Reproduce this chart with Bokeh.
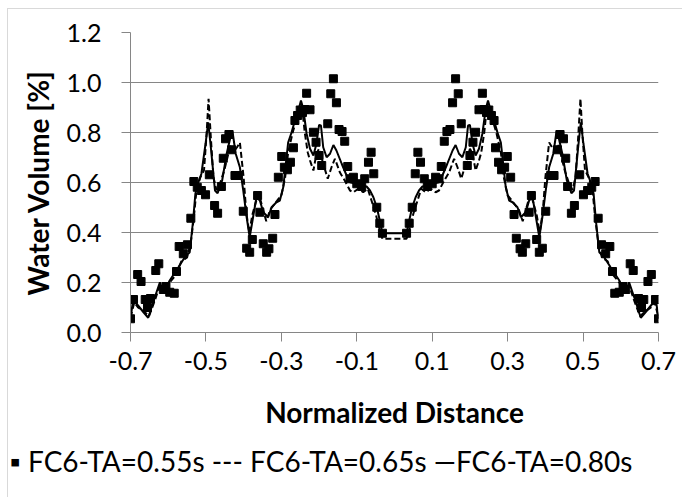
from bokeh.plotting import figure
from bokeh.models import FixedTicker, PrintfTickFormatter, Title
from bokeh.embed import file_html
from bokeh.resources import INLINE

# ---- data -------------------------------------------------------------
x_tick_values = [-0.7, -0.5, -0.3, -0.1, 0.1, 0.3, 0.5, 0.7]
y_tick_values = [0.0, 0.2, 0.4, 0.6, 0.8, 1.0, 1.2]

series_names = ["FC6-TA=0.55s", "FC6-TA=0.65s", "FC6-TA=0.80s"]
legend_keys = ["\u25aa", "---", "\u2014"]

# FC6-TA=0.55s (squares)
x_055 = [-0.700, -0.692, -0.681, -0.672, -0.661, -0.655, -0.647, -0.633, -0.625, -0.613,
         -0.606, -0.596, -0.584, -0.578, -0.571, -0.560, -0.549, -0.540, -0.532, -0.523,
         -0.512, -0.501, -0.491, -0.477, -0.469, -0.459, -0.454, -0.448, -0.439, -0.432,
         -0.423, -0.414, -0.401, -0.392, -0.384, -0.377, -0.363, -0.357, -0.348, -0.339,
         -0.333, -0.323, -0.317, -0.308, -0.299, -0.292, -0.284, -0.276, -0.268, -0.264,
         -0.257, -0.250, -0.244, -0.238, -0.233, -0.224, -0.215, -0.208, -0.200, -0.193,
         -0.177, -0.169, -0.162, -0.154, -0.147, -0.139, -0.132, -0.124, -0.118, -0.109,
         -0.100, -0.087, -0.079, -0.069, -0.062, -0.055, -0.047, -0.039, -0.032,
         0.032, 0.039, 0.047, 0.055, 0.062, 0.069, 0.079, 0.087, 0.100, 0.109,
         0.118, 0.124, 0.132, 0.139, 0.147, 0.154, 0.162, 0.169, 0.177, 0.193,
         0.200, 0.208, 0.215, 0.224, 0.233, 0.238, 0.244, 0.250, 0.257, 0.264,
         0.268, 0.276, 0.284, 0.292, 0.299, 0.308, 0.317, 0.323, 0.333, 0.339,
         0.348, 0.357, 0.363, 0.377, 0.384, 0.392, 0.401, 0.414, 0.423, 0.432,
         0.439, 0.448, 0.454, 0.459, 0.469, 0.477, 0.491, 0.501, 0.512, 0.523,
         0.532, 0.540, 0.549, 0.560, 0.571, 0.578, 0.584, 0.596, 0.606, 0.613,
         0.625, 0.633, 0.647, 0.655, 0.661, 0.672, 0.681, 0.692, 0.700]
y_055 = [0.055, 0.132, 0.232, 0.204, 0.132, 0.100, 0.136, 0.248, 0.275, 0.172,
         0.184, 0.161, 0.157, 0.244, 0.344, 0.315, 0.351, 0.457, 0.604, 0.581,
         0.568, 0.551, 0.631, 0.508, 0.477, 0.584, 0.697, 0.775, 0.792, 0.731,
         0.628, 0.628, 0.485, 0.337, 0.321, 0.372, 0.548, 0.481, 0.355, 0.321,
         0.335, 0.377, 0.472, 0.621, 0.704, 0.661, 0.651, 0.681, 0.739, 0.848,
         0.868, 0.890, 0.880, 0.892, 0.957, 0.891, 0.801, 0.761, 0.708, 0.668,
         0.835, 0.955, 1.015, 0.919, 0.812, 0.804, 0.765, 0.664, 0.615, 0.621,
         0.595, 0.584, 0.615, 0.681, 0.721, 0.635, 0.501, 0.437, 0.397,
         0.397, 0.437, 0.501, 0.635, 0.721, 0.681, 0.615, 0.584, 0.595, 0.621,
         0.615, 0.664, 0.765, 0.804, 0.812, 0.919, 1.015, 0.955, 0.835, 0.668,
         0.708, 0.761, 0.801, 0.891, 0.957, 0.892, 0.880, 0.890, 0.868, 0.848,
         0.739, 0.681, 0.651, 0.661, 0.704, 0.621, 0.472, 0.377, 0.335, 0.321,
         0.355, 0.481, 0.548, 0.372, 0.321, 0.337, 0.485, 0.628, 0.628, 0.731,
         0.792, 0.775, 0.697, 0.584, 0.477, 0.508, 0.631, 0.551, 0.568, 0.581,
         0.604, 0.457, 0.351, 0.315, 0.344, 0.244, 0.157, 0.161, 0.184, 0.172,
         0.275, 0.248, 0.136, 0.100, 0.132, 0.204, 0.232, 0.132, 0.055]

# FC6-TA=0.65s (dashed line)
x_065 = [-0.700, -0.690, -0.680, -0.665, -0.651, -0.635, -0.622, -0.613, -0.596, -0.580,
         -0.565, -0.550, -0.540, -0.532, -0.525, -0.515, -0.505, -0.498, -0.493, -0.487,
         -0.480, -0.472, -0.462, -0.452, -0.443, -0.435, -0.428, -0.418, -0.410, -0.400,
         -0.393, -0.385, -0.377, -0.368, -0.360, -0.350, -0.340, -0.330, -0.320, -0.310,
         -0.300, -0.290, -0.282, -0.270, -0.260, -0.250, -0.245, -0.238, -0.230, -0.224,
         -0.215, -0.207, -0.200, -0.189, -0.177, -0.167, -0.158, -0.145, -0.132, -0.118,
         -0.109, -0.096, -0.083, -0.071, -0.061, -0.050, -0.041, -0.032, 0.000,
         0.032, 0.041, 0.050, 0.061, 0.071, 0.083, 0.096, 0.109, 0.118, 0.132,
         0.145, 0.158, 0.167, 0.177, 0.189, 0.200, 0.207, 0.215, 0.224, 0.230,
         0.238, 0.245, 0.250, 0.260, 0.270, 0.282, 0.290, 0.300, 0.310, 0.320,
         0.330, 0.340, 0.350, 0.360, 0.368, 0.377, 0.385, 0.393, 0.400, 0.410,
         0.418, 0.428, 0.435, 0.443, 0.452, 0.462, 0.472, 0.480, 0.487, 0.493,
         0.498, 0.505, 0.515, 0.525, 0.532, 0.540, 0.550, 0.565, 0.580, 0.596,
         0.613, 0.622, 0.635, 0.651, 0.665, 0.680, 0.690, 0.700]
y_065 = [0.060, 0.120, 0.100, 0.085, 0.065, 0.130, 0.190, 0.160, 0.200, 0.230,
         0.285, 0.300, 0.360, 0.460, 0.570, 0.620, 0.650, 0.800, 0.935, 0.780,
         0.620, 0.570, 0.600, 0.645, 0.700, 0.750, 0.720, 0.740, 0.760, 0.620,
         0.480, 0.400, 0.470, 0.520, 0.555, 0.500, 0.445, 0.490, 0.510, 0.530,
         0.548, 0.620, 0.720, 0.800, 0.850, 0.880, 0.900, 0.800, 0.720, 0.688,
         0.648, 0.715, 0.735, 0.675, 0.615, 0.661, 0.695, 0.641, 0.608, 0.568,
         0.561, 0.575, 0.561, 0.575, 0.528, 0.475, 0.421, 0.375, 0.375,
         0.375, 0.421, 0.475, 0.528, 0.575, 0.561, 0.575, 0.561, 0.568, 0.608,
         0.641, 0.695, 0.661, 0.615, 0.675, 0.735, 0.715, 0.648, 0.688, 0.720,
         0.800, 0.900, 0.880, 0.850, 0.800, 0.720, 0.620, 0.548, 0.530, 0.510,
         0.490, 0.445, 0.500, 0.555, 0.520, 0.470, 0.400, 0.480, 0.620, 0.760,
         0.740, 0.720, 0.750, 0.700, 0.645, 0.600, 0.570, 0.620, 0.780, 0.935,
         0.800, 0.650, 0.620, 0.570, 0.460, 0.360, 0.300, 0.285, 0.230, 0.200,
         0.160, 0.190, 0.130, 0.065, 0.085, 0.100, 0.120, 0.060]

# FC6-TA=0.80s (solid line)
x_080 = [-0.700, -0.693, -0.680, -0.665, -0.653, -0.638, -0.622, -0.613, -0.596, -0.573,
         -0.556, -0.543, -0.534, -0.528, -0.520, -0.512, -0.501, -0.494, -0.487, -0.476,
         -0.469, -0.457, -0.445, -0.434, -0.430, -0.421, -0.410, -0.401, -0.392, -0.384,
         -0.375, -0.366, -0.357, -0.348, -0.335, -0.326, -0.313, -0.304, -0.295, -0.282,
         -0.273, -0.264, -0.255, -0.248, -0.242, -0.233, -0.224, -0.215, -0.207, -0.200,
         -0.195, -0.189, -0.180, -0.171, -0.162, -0.154, -0.140, -0.127, -0.118, -0.107,
         -0.092, -0.074, -0.065, -0.056, -0.047, -0.039, -0.032, 0.000,
         0.032, 0.039, 0.047, 0.056, 0.065, 0.074, 0.092, 0.107, 0.118, 0.127,
         0.140, 0.154, 0.162, 0.171, 0.180, 0.189, 0.195, 0.200, 0.207, 0.215,
         0.224, 0.233, 0.242, 0.248, 0.255, 0.264, 0.273, 0.282, 0.295, 0.304,
         0.313, 0.326, 0.335, 0.348, 0.357, 0.366, 0.375, 0.384, 0.392, 0.401,
         0.410, 0.421, 0.430, 0.434, 0.445, 0.457, 0.469, 0.476, 0.487, 0.494,
         0.501, 0.512, 0.520, 0.528, 0.534, 0.543, 0.556, 0.573, 0.596, 0.613,
         0.622, 0.638, 0.653, 0.665, 0.680, 0.693, 0.700]
y_080 = [0.055, 0.131, 0.108, 0.080, 0.059, 0.130, 0.201, 0.156, 0.208, 0.261,
         0.301, 0.321, 0.448, 0.555, 0.601, 0.635, 0.755, 0.841, 0.741, 0.568,
         0.557, 0.608, 0.715, 0.788, 0.808, 0.715, 0.661, 0.568, 0.461, 0.381,
         0.461, 0.541, 0.528, 0.481, 0.461, 0.501, 0.521, 0.528, 0.581, 0.760,
         0.800, 0.848, 0.888, 0.928, 0.895, 0.795, 0.735, 0.708, 0.755, 0.830,
         0.828, 0.741, 0.701, 0.715, 0.750, 0.728, 0.675, 0.628, 0.601, 0.597,
         0.588, 0.584, 0.568, 0.541, 0.501, 0.448, 0.397, 0.397,
         0.397, 0.448, 0.501, 0.541, 0.568, 0.584, 0.588, 0.597, 0.601, 0.628,
         0.675, 0.728, 0.750, 0.715, 0.701, 0.741, 0.828, 0.830, 0.755, 0.708,
         0.735, 0.795, 0.895, 0.928, 0.888, 0.848, 0.800, 0.760, 0.581, 0.528,
         0.521, 0.501, 0.461, 0.481, 0.528, 0.541, 0.461, 0.381, 0.461, 0.568,
         0.661, 0.715, 0.808, 0.788, 0.715, 0.608, 0.557, 0.568, 0.741, 0.841,
         0.755, 0.635, 0.601, 0.555, 0.448, 0.321, 0.301, 0.261, 0.208, 0.156,
         0.201, 0.130, 0.059, 0.080, 0.108, 0.131, 0.055]

# ---- figure -------------------------------------------------------------
FONT = "Lato"
GRAY = "#868686"
DASH = "6 3"

p = figure(width=675, height=489, output_backend="svg", toolbar_location=None,
           x_range=(-0.7, 0.7), y_range=(0.0, 1.2),
           min_border_left=122, min_border_right=25, min_border_top=23, min_border_bottom=166,
           margin=(8, 0, 0, 7),
           styles={"border-left": "1px solid #d9d9d9", "border-top": "1px solid #d9d9d9"})
p.outline_line_color = None
p.background_fill_color = "white"
p.border_fill_color = "white"

p.xgrid.visible = False
p.ygrid.grid_line_color = GRAY
p.ygrid.grid_line_width = 1
p.ygrid.ticker = FixedTicker(ticks=y_tick_values)

p.xaxis.ticker = FixedTicker(ticks=x_tick_values)
p.yaxis.ticker = FixedTicker(ticks=y_tick_values)
p.xaxis.formatter = PrintfTickFormatter(format="%.1f")
p.yaxis.formatter = PrintfTickFormatter(format="%.1f")

for ax in (p.xaxis, p.yaxis):
    ax.axis_line_color = GRAY
    ax.major_tick_line_color = GRAY
    ax.major_tick_in = 0
    ax.major_tick_out = 9
    ax.minor_tick_line_color = None
    ax.major_label_text_font = FONT
    ax.major_label_text_font_size = "25px"
    ax.major_label_text_color = "black"
    ax.axis_label_text_font = FONT
    ax.axis_label_text_font_size = "28px"
    ax.axis_label_text_font_style = "bold"
    ax.axis_label_text_color = "black"

p.xaxis.axis_label = "Normalized Distance"
p.yaxis.axis_label = "Water Volume [%]"
p.xaxis.major_label_standoff = 10
p.xaxis.axis_label_standoff = 22
p.yaxis.major_label_standoff = 20
p.yaxis.axis_label_standoff = 9

p.scatter(x_055, y_055, marker="square", size=8, color="black")
p.line(x_065, y_065, line_color="black", line_width=2, line_dash=DASH)
p.line(x_080, y_080, line_color="black", line_width=2)

# legend row (key symbol + series name), written as one line of text below the axis
legend_text = (legend_keys[0] + " " + series_names[0] + " " +
               legend_keys[1] + " " + series_names[1] + " " +
               legend_keys[2] + series_names[2])
key_row = Title(text=legend_text, align="left", offset=-121, standoff=21,
                text_font=FONT, text_font_size="28px", text_font_style="normal",
                text_color="black")
p.add_layout(key_row, "below")

open("out.html", "w").write(file_html(p, INLINE))
